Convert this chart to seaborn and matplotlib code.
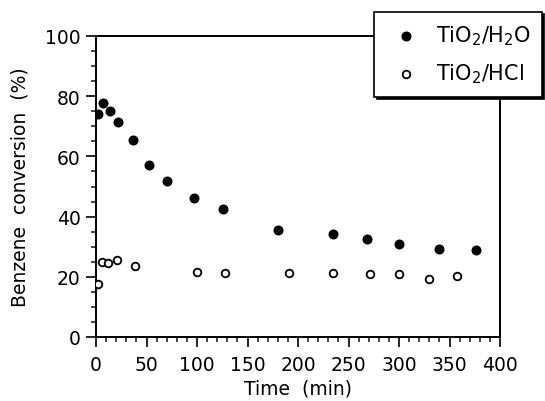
import numpy as np
import pandas as pd
import seaborn as sns
import matplotlib.pyplot as plt
from matplotlib.ticker import MultipleLocator

# values
time_h2o = [2, 7, 14, 22, 37, 52, 70, 97, 126, 180, 235, 268, 300, 340, 376]
conv_h2o = [74.0, 77.8, 75.2, 71.5, 65.5, 57.0, 51.7, 46.3, 42.5, 35.7, 34.1, 32.5, 30.9, 29.3, 28.8]

time_hcl = [2, 6, 12, 21, 39, 100, 128, 191, 235, 271, 300, 330, 357]
conv_hcl = [17.7, 25.0, 24.5, 25.6, 23.7, 21.5, 21.4, 21.4, 21.4, 21.0, 20.9, 19.3, 20.3]

label_h2o = 'TiO$_2$/H$_2$O'
label_hcl = 'TiO$_2$/HCl'

sns.set_theme(style='ticks')
plt.rcParams['font.family'] = ['DejaVu Sans']
plt.rcParams['mathtext.fontset'] = 'dejavusans'
plt.rcParams['text.color'] = 'black'
plt.rcParams['axes.labelcolor'] = 'black'

df_h2o = pd.DataFrame({'time': time_h2o, 'conv': conv_h2o})
df_hcl = pd.DataFrame({'time': time_hcl, 'conv': conv_hcl})

fig = plt.figure(figsize=(5.45, 4.02), dpi=100)
ax = fig.add_axes([96 / 545, 64 / 402, 404 / 545, 301 / 402])

sns.scatterplot(data=df_h2o, x='time', y='conv', ax=ax, color='black',
                s=52, edgecolor='black', linewidth=0, label=label_h2o, zorder=3)
sns.scatterplot(data=df_hcl, x='time', y='conv', ax=ax, facecolor='white',
                s=30, edgecolor='black', linewidth=1.3, label=label_hcl, zorder=3)

ax.set_xlim(0, 400)
ax.set_ylim(0, 100)
ax.xaxis.set_major_locator(MultipleLocator(50))
ax.xaxis.set_minor_locator(MultipleLocator(10))
ax.yaxis.set_major_locator(MultipleLocator(20))
ax.yaxis.set_minor_locator(MultipleLocator(5))

for sp in ax.spines.values():
    sp.set_visible(True)
    sp.set_linewidth(1.4)
    sp.set_color('black')

ax.tick_params(which='major', direction='out', length=7, width=1.2,
               labelsize=13.5, colors='black', pad=4)
ax.tick_params(which='minor', direction='out', length=3.5, width=1.2)
ax.tick_params(axis='x', which='major', pad=6)
ax.tick_params(top=False, right=False, which='both')

ax.set_xlabel('Time  (min)', fontsize=13.5, labelpad=3, color='black')
ax.set_ylabel('Benzene  conversion  (%)', fontsize=13.5, labelpad=11, color='black')

leg = ax.legend(loc='upper right', bbox_to_anchor=(542 / 545, 1 - 13 / 402),
                bbox_transform=fig.transFigure, borderaxespad=0,
                frameon=True, fancybox=False,
                shadow={'color': 'black', 'alpha': 1.0, 'ox': 1.6, 'oy': -1.6},
                fontsize=15, handletextpad=0.5, labelspacing=0.7,
                borderpad=0.55, handlelength=1.9, markerscale=1.0)
leg.get_frame().set_edgecolor('black')
leg.get_frame().set_linewidth(1.2)
leg.get_frame().set_facecolor('white')
leg.set_zorder(10)

fig.savefig('out.png', dpi=100)
